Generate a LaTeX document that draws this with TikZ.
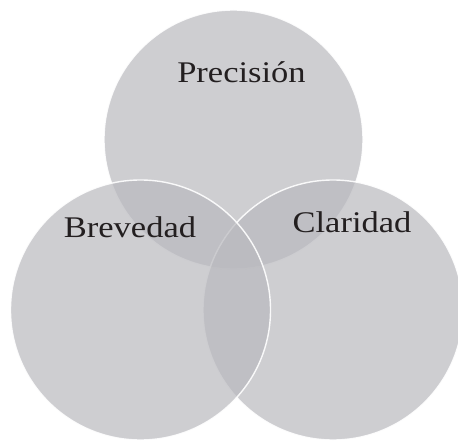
\documentclass[tikz,border=0pt]{standalone}
\usepackage{tikz}
\usepackage{fontspec}
\setmainfont{Liberation Serif}[FakeStretch=1.15]
\usetikzlibrary{positioning}

\definecolor{setgray}{RGB}{185,185,190}
\definecolor{inkgray}{RGB}{35,31,32}

\begin{document}
\begin{tikzpicture}[
    x=1pt, y=1pt,
    set/.style={fill=setgray, fill opacity=0.7, draw=white, draw opacity=0.9, line width=1.4pt},
    tag/.style={anchor=base, inner sep=0pt, font=\fontsize{30}{36}\selectfont, text=inkgray}
]
\useasboundingbox (0,0) rectangle (458,440);

% Circles
\path[set] (233.5,300.5) circle (129.5);
\path[set] (333,130) circle (130);
\path[set] (140.5,130) circle (130);

% Labels
\node[tag] (prec) at (241.5,357) {Precisión};
\node[tag] (brev) at (130,203) {Brevedad};
\node[tag] (clar) at (352,208) {Claridad};

\end{tikzpicture}
\end{document}
